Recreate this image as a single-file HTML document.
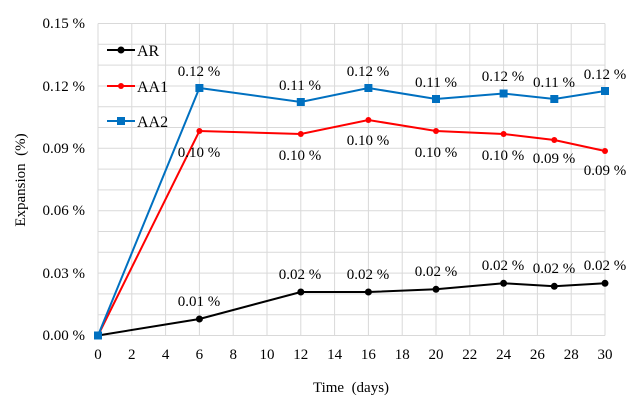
<!DOCTYPE html><html><head><style>body{margin:0;background:#fff}svg{display:block;font-family:"Liberation Serif",serif}</style></head><body>
<svg width="627" height="413" xmlns="http://www.w3.org/2000/svg">
<g stroke="#d9d9d9" stroke-width="1">
<line x1="98" y1="44.3" x2="605" y2="44.3"/><line x1="98" y1="65.1" x2="605" y2="65.1"/><line x1="98" y1="86" x2="605" y2="86"/><line x1="98" y1="106.7" x2="605" y2="106.7"/><line x1="98" y1="127.5" x2="605" y2="127.5"/><line x1="98" y1="148.3" x2="605" y2="148.3"/><line x1="98" y1="169.1" x2="605" y2="169.1"/><line x1="98" y1="189.9" x2="605" y2="189.9"/><line x1="98" y1="210.7" x2="605" y2="210.7"/><line x1="98" y1="231.5" x2="605" y2="231.5"/><line x1="98" y1="252.3" x2="605" y2="252.3"/><line x1="98" y1="273.1" x2="605" y2="273.1"/><line x1="98" y1="293.9" x2="605" y2="293.9"/><line x1="98" y1="314.7" x2="605" y2="314.7"/><line x1="98" y1="23.5" x2="605" y2="23.5"/>
<line x1="131.8" y1="23.5" x2="131.8" y2="335.5"/><line x1="165.6" y1="23.5" x2="165.6" y2="335.5"/><line x1="199.4" y1="23.5" x2="199.4" y2="335.5"/><line x1="233.2" y1="23.5" x2="233.2" y2="335.5"/><line x1="267" y1="23.5" x2="267" y2="335.5"/><line x1="300.8" y1="23.5" x2="300.8" y2="335.5"/><line x1="334.6" y1="23.5" x2="334.6" y2="335.5"/><line x1="368.4" y1="23.5" x2="368.4" y2="335.5"/><line x1="402.2" y1="23.5" x2="402.2" y2="335.5"/><line x1="436" y1="23.5" x2="436" y2="335.5"/><line x1="469.8" y1="23.5" x2="469.8" y2="335.5"/><line x1="503.6" y1="23.5" x2="503.6" y2="335.5"/><line x1="537.4" y1="23.5" x2="537.4" y2="335.5"/><line x1="571.2" y1="23.5" x2="571.2" y2="335.5"/><line x1="605" y1="23.5" x2="605" y2="335.5"/>
<line x1="98" y1="23.5" x2="98" y2="335.5"/><line x1="98" y1="335.5" x2="605" y2="335.5"/>
</g>
<g font-size="15" fill="#000" text-anchor="end">
<text x="85" y="28">0.15 %</text><text x="85" y="91">0.12 %</text><text x="85" y="153">0.09 %</text><text x="85" y="215">0.06 %</text><text x="85" y="278">0.03 %</text><text x="85" y="340">0.00 %</text>
</g>
<g font-size="15" text-anchor="middle">
<text x="98" y="359">0</text><text x="131.8" y="359">2</text><text x="165.6" y="359">4</text><text x="199.4" y="359">6</text><text x="233.2" y="359">8</text><text x="267" y="359">10</text><text x="300.8" y="359">12</text><text x="334.6" y="359">14</text><text x="368.4" y="359">16</text><text x="402.2" y="359">18</text><text x="436" y="359">20</text><text x="469.8" y="359">22</text><text x="503.6" y="359">24</text><text x="537.4" y="359">26</text><text x="571.2" y="359">28</text><text x="605" y="359">30</text>
<text x="351" y="392" xml:space="preserve">Time  (days)</text>
<text transform="translate(25,180) rotate(-90)" xml:space="preserve">Expansion  (%)</text>
</g>
<polyline fill="none" stroke="#000" stroke-width="2" points="98,335.5 199.4,319 300.8,292 368.4,292 436,289.3 503.6,283.3 554.3,286.3 605,283.3"/>
<g fill="#000"><circle cx="98" cy="335.5" r="3.5"/><circle cx="199.4" cy="319" r="3.5"/><circle cx="300.8" cy="292" r="3.5"/><circle cx="368.4" cy="292" r="3.5"/><circle cx="436" cy="289.3" r="3.5"/><circle cx="503.6" cy="283.3" r="3.5"/><circle cx="554.3" cy="286.3" r="3.5"/><circle cx="605" cy="283.3" r="3.5"/></g>
<polyline fill="none" stroke="#ff0000" stroke-width="2" points="98,335.5 199.4,131 300.8,134 368.4,120 436,131 503.6,134 554.3,140 605,151"/>
<g fill="#ff0000"><circle cx="98" cy="335.5" r="3"/><circle cx="199.4" cy="131" r="3"/><circle cx="300.8" cy="134" r="3"/><circle cx="368.4" cy="120" r="3"/><circle cx="436" cy="131" r="3"/><circle cx="503.6" cy="134" r="3"/><circle cx="554.3" cy="140" r="3"/><circle cx="605" cy="151" r="3"/></g>
<polyline fill="none" stroke="#0070c0" stroke-width="2" points="98,335.5 199.4,88 300.8,102 368.4,88 436,99 503.6,93.5 554.3,99 605,91"/>
<g fill="#0070c0"><rect x="94" y="331.5" width="8" height="8"/><rect x="195.4" y="84" width="8" height="8"/><rect x="296.8" y="98" width="8" height="8"/><rect x="364.4" y="84" width="8" height="8"/><rect x="432" y="95" width="8" height="8"/><rect x="499.6" y="89.5" width="8" height="8"/><rect x="550.3" y="95" width="8" height="8"/><rect x="601" y="87" width="8" height="8"/></g>
<g font-size="15" text-anchor="middle">
<text x="199" y="76">0.12 %</text><text x="300" y="90">0.11 %</text><text x="368" y="76">0.12 %</text><text x="436" y="87">0.11 %</text><text x="503" y="81">0.12 %</text><text x="554" y="87">0.11 %</text><text x="605" y="79">0.12 %</text>
<text x="199" y="157">0.10 %</text><text x="300" y="160">0.10 %</text><text x="368" y="145">0.10 %</text><text x="436" y="157">0.10 %</text><text x="503" y="160">0.10 %</text><text x="554" y="163">0.09 %</text><text x="605" y="175">0.09 %</text>
<text x="199" y="306">0.01 %</text><text x="300" y="279">0.02 %</text><text x="368" y="279">0.02 %</text><text x="436" y="276">0.02 %</text><text x="503" y="270">0.02 %</text><text x="554" y="273">0.02 %</text><text x="605" y="270">0.02 %</text>
</g>
<line x1="107" y1="50" x2="135" y2="50" stroke="#000" stroke-width="2"/><circle cx="121" cy="50" r="3.5"/>
<line x1="107" y1="86" x2="135" y2="86" stroke="#ff0000" stroke-width="2"/><circle cx="121" cy="86" r="3" fill="#ff0000"/>
<line x1="107" y1="121" x2="135" y2="121" stroke="#0070c0" stroke-width="2"/><rect x="117" y="117" width="8" height="8" fill="#0070c0"/>
<g font-size="16"><text x="137" y="56">AR</text><text x="137" y="92">AA1</text><text x="137" y="127">AA2</text></g>
</svg></body></html>
